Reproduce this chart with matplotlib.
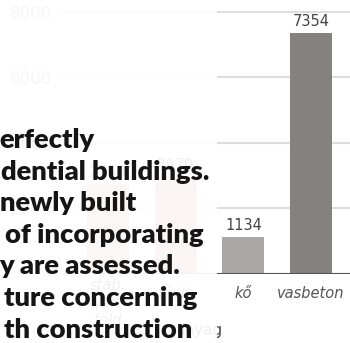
import numpy as np
import matplotlib.pyplot as plt
from matplotlib.patches import Rectangle

# anyagok es ertekek
anyag = ['stab.\nvert\nföld', 'tégla', 'kő', 'vasbeton']
ertek = [2750, 2970, 1134, 7354]
szin = ['#c9a184', '#d88c8c', '#aaa7a7', '#858181']
yticks = [0, 2000, 4000, 6000, 8000]

sorok = ['erfectly', 'dential buildings.', 'newly built', 'of incorporating',
         'y are assessed.', 'ture concerning', 'th construction']
sor_x = [-1, 1, 0, 5, -1, 4, 4]

W, H = 350, 343
AH = 274 - 5.4  # tengely magassaga pixelben
fig = plt.figure(figsize=(W/100, H/100), dpi=100)
ax = fig.add_axes([62/W, 69/H, 1 - 62/W, AH/H])

x = np.arange(len(anyag))
ax.bar(x, ertek, width=0.62, color=szin, zorder=2)
for xi, v in zip(x, ertek):
    ax.text(xi, v + 120, str(v), ha='center', va='bottom', fontsize=10.5,
            color='#444444')

ax.set_xlim(-0.68, 3.575)
ax.set_ylim(0, 8200)
ax.set_yticks(yticks)
ax.set_yticklabels([str(t) if t > 0 else '' for t in yticks], fontsize=12,
                   color='#999999')
ax.set_xticks([])
ax.tick_params(length=0, pad=7)
for s in ax.spines.values():
    s.set_visible(False)
ax.axhline(0, color='#555555', lw=1.5, zorder=3)
ax.grid(axis='y', color='#dddddd', lw=1.5, zorder=0)
ax.set_axisbelow(True)

tr = ax.get_xaxis_transform()
for xi, a in zip(x, anyag):
    if '\n' in a:
        ax.text(xi, -(303 - 274)/AH, a, ha='center', va='center',
                fontsize=10.5, style='italic', color='#555555',
                linespacing=1.2, transform=tr)
    else:
        ax.text(xi, -(293 - 274)/AH, a, ha='center', va='center',
                fontsize=10.5, style='italic', color='#555555', transform=tr)
ax.text((175 - 62)/(W - 62), -(330 - 274)/AH, 'anyag', ha='left',
        va='center', fontsize=11, color='#444444', transform=ax.transAxes)

# feher fatyol a bal oldalon
fig.patches.append(Rectangle((0, 0), 217/W, 1, transform=fig.transFigure,
                             facecolor='white', alpha=0.92, zorder=5,
                             edgecolor='none'))

for i, (s, sx) in enumerate(zip(sorok, sor_x)):
    fig.text(sx/W, 1 - (148 + 31.6*i)/H, s, fontsize=19.6, fontweight='heavy',
             family='Lato', color='#151515', va='baseline', ha='left',
             zorder=6)

fig.savefig('out.png', dpi=100)
